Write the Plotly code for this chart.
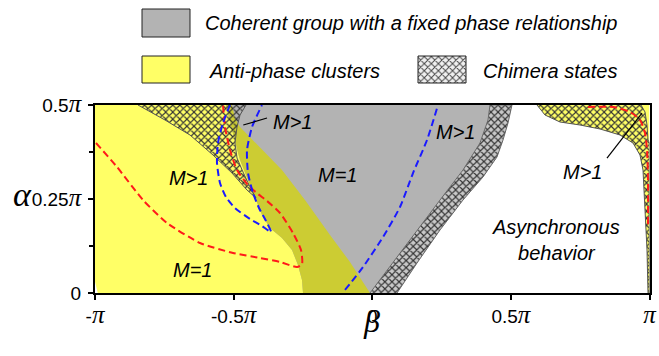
import plotly.graph_objects as go

# ---------------- data (angles in units of pi) ----------------
beta_ticks = [-1, -0.5, 0, 0.5, 1]
beta_tick_labels = ["-", "-0.5", "0", "0.5", ""]
beta_tick_has_pi = [True, True, False, True, True]
alpha_ticks = [0, 0.25, 0.5]
alpha_tick_labels = ["0", "0.25", "0.5"]
alpha_tick_has_pi = [False, True, True]

# right edge of anti-phase (yellow) region, top -> bottom
antiphase_edge_beta = [-0.5059, -0.4951, -0.4770, -0.4049, -0.3256, -0.2426, -0.1524, -0.0803, -0.0081]
antiphase_edge_alpha = [0.5, 0.4654, 0.4415, 0.3883, 0.3271, 0.2473, 0.1543, 0.0824, 0.0]

# left edge of coherent (gray) region, top -> bottom
coherent_edge_beta = [-0.5275, -0.5059, -0.4770, -0.4301, -0.3977, -0.3688, -0.3256, -0.2895, -0.2679, -0.2534, -0.2498]
coherent_edge_alpha = [0.5, 0.4335, 0.3537, 0.2686, 0.2074, 0.1729, 0.1463, 0.1144, 0.0745, 0.0346, 0.0]

# chimera band (middle), left edge bottom -> top, right edge bottom -> top
band_left_beta = [-0.0081, 0.0893, 0.1614, 0.2444, 0.3273, 0.3886, 0.4175, 0.4247]
band_left_alpha = [0.0, 0.0957, 0.1676, 0.2473, 0.3271, 0.3989, 0.4601, 0.5]
band_right_beta = [0.0893, 0.1614, 0.2444, 0.3273, 0.3994, 0.4499, 0.4716, 0.4896, 0.5040]
band_right_alpha = [0.0, 0.0798, 0.1676, 0.2473, 0.3085, 0.3617, 0.4069, 0.4521, 0.5]

# chimera wedge (upper left), lower edge top -> tip, right edge top -> tip
wedge_lower_beta = [-0.8449, -0.7475, -0.6574, -0.5744, -0.5059, -0.4518, -0.4193]
wedge_lower_alpha = [0.5, 0.4601, 0.4202, 0.3670, 0.3191, 0.2739, 0.2527]
wedge_right_beta = [-0.4554, -0.4770, -0.4878, -0.4951, -0.4878, -0.4662, -0.4409, -0.4193]
wedge_right_alpha = [0.5, 0.4734, 0.4415, 0.3989, 0.3590, 0.3218, 0.2819, 0.2527]

# chimera corner (upper right), lower edge top -> bottom
corner_edge_beta = [0.5943, 0.6231, 0.6772, 0.7493, 0.8215, 0.8936, 0.9405, 0.9657, 0.9766, 0.9838, 0.9910, 0.9946]
corner_edge_alpha = [0.5, 0.4734, 0.4548, 0.4468, 0.4362, 0.4202, 0.3989, 0.3670, 0.3271, 0.2287, 0.1144, 0.0]
corner_cut_beta = [0.9693, 0.9838, 0.9910, 0.9946]
corner_cut_alpha = [0.5, 0.4814, 0.4468, 0.4069]

# dashed curves
red_left_beta = [-0.9964, -0.9206, -0.8268, -0.7402, -0.6212, -0.5022, -0.4049, -0.3328, -0.2714, -0.2534,
                 -0.2570, -0.2858, -0.3328, -0.3796, -0.4121, -0.4481, -0.4878, -0.5130, -0.5311, -0.5383]
red_left_alpha = [0.3989, 0.3351, 0.2473, 0.1862, 0.1330, 0.1064, 0.0931, 0.0824, 0.0691, 0.0771,
                  0.1144, 0.1596, 0.2128, 0.2447, 0.2633, 0.2872, 0.3271, 0.3803, 0.4415, 0.5]
red_right_beta = [0.7781, 0.8683, 0.9296, 0.9657, 0.9838, 0.9910, 0.9946, 0.9946]
red_right_alpha = [0.4947, 0.4947, 0.4814, 0.4601, 0.4255, 0.3803, 0.3005, 0.1809]
blue_left_beta = [-0.5131, -0.5383, -0.5564, -0.5600, -0.5491, -0.5275, -0.4950, -0.4409, -0.3977, -0.3652,
                  -0.3832, -0.4085, -0.4301, -0.4481, -0.4517, -0.4337, -0.3977]
blue_left_alpha = [0.5, 0.4521, 0.3989, 0.3457, 0.2926, 0.2553, 0.2261, 0.1968, 0.1782, 0.1622,
                   0.1915, 0.2261, 0.2660, 0.3191, 0.3803, 0.4415, 0.5]
blue_mid_beta = [-0.0983, -0.0333, 0.0388, 0.1001, 0.1470, 0.1975, 0.2372]
blue_mid_alpha = [0.0080, 0.0691, 0.1489, 0.2287, 0.3191, 0.4069, 0.5]

# region labels (beta, alpha, text)
label_beta = [-0.664, -0.650, -0.286, -0.124, 0.302, 0.760, 0.663]
label_alpha = [0.306, 0.061, 0.455, 0.314, 0.428, 0.322, 0.141]
label_text = ["M>1", "M=1", "M>1", "M=1", "M>1", "M>1", "Asynchronous<br>behavior"]

legend_names = ["Coherent group with a fixed phase relationship", "Anti-phase clusters", "Chimera states"]

# ---------------- styles ----------------
YELLOW = "#FFFF66"
GRAY = "#B3B3B3"
OLIVE = "#CCCC33"
HATCH = "#333333"
W, H = 659, 356
PX_L, PX_R, PX_T, PX_B = 95, 649.5, 105, 293

fig = go.Figure()


def poly(xs, ys, fill, line=None, pattern=None, xaxis="x", yaxis="y"):
    kw = dict(x=xs, y=ys, mode="lines", fill="toself", fillcolor=fill,
              line=dict(width=line[1] if line else 0, color=line[0] if line else "rgba(0,0,0,0)"),
              hoverinfo="skip", showlegend=False, xaxis=xaxis, yaxis=yaxis)
    if pattern:
        kw["fillpattern"] = pattern
    fig.add_trace(go.Scatter(**kw))


def hatch(bg):
    return dict(shape="x", fgcolor=HATCH, bgcolor=bg, size=5, solidity=0.4, fillmode="replace")


# anti-phase (yellow)
poly([-0.99, -1, -1] + antiphase_edge_beta, [0, 0.03, 0.5] + antiphase_edge_alpha, YELLOW)
# coherent (gray)
poly(coherent_edge_beta + band_left_beta, coherent_edge_alpha + band_left_alpha, GRAY)
# overlap (olive)
poly(coherent_edge_beta + antiphase_edge_beta[::-1], coherent_edge_alpha + antiphase_edge_alpha[::-1], OLIVE)
# corner yellow base
poly(corner_edge_beta + [1, 1], corner_edge_alpha + [0, 0.5], YELLOW)

# chimera regions
poly(wedge_lower_beta + wedge_right_beta[::-1], wedge_lower_alpha + wedge_right_alpha[::-1],
     "rgba(0,0,0,0)", line=("#555555", 1), pattern=hatch("rgba(0,0,0,0)"))
poly(band_left_beta + band_right_beta[::-1], band_left_alpha + band_right_alpha[::-1],
     "#C4C4C4", line=("#666666", 1), pattern=hatch("#C8C8C8"))
poly(corner_edge_beta + [1, 1] + corner_cut_beta[::-1], corner_edge_alpha + [0, 0.40] + corner_cut_alpha[::-1],
     YELLOW, line=("#555555", 1), pattern=hatch(YELLOW))

# dashed curves
DASH = "7px,4px"
for xs, ys, c in [(red_left_beta, red_left_alpha, "#FF1A1A"), (red_right_beta, red_right_alpha, "#FF1A1A"),
                  (blue_left_beta, blue_left_alpha, "#1A1AFF"), (blue_mid_beta, blue_mid_alpha, "#1A1AFF")]:
    fig.add_trace(go.Scatter(x=xs, y=ys, mode="lines", line=dict(color=c, width=2, dash=DASH, shape="spline", smoothing=0.6),
                             hoverinfo="skip", showlegend=False))

# leader lines for M>1 labels
fig.add_shape(type="line", x0=-0.4652, y0=0.4468, x1=-0.3796, y1=0.4654, xref="x", yref="y",
              line=dict(color="black", width=1.2))
fig.add_shape(type="line", x0=0.9729, y0=0.4787, x1=0.8467, y1=0.3590, xref="x", yref="y",
              line=dict(color="black", width=1.2))

# region labels
for bx, ay, t in zip(label_beta, label_alpha, label_text):
    fig.add_annotation(x=bx, y=ay, xref="x", yref="y", text=t, showarrow=False,
                       font=dict(family="Liberation Sans", size=20, color="black", style="italic"))

# ---------------- legend (drawn in a pixel-coordinate overlay) ----------------
def box(x0, y0, x1, y1, fill, pattern=None):
    poly([x0, x1, x1, x0, x0], [y0, y0, y1, y1, y0], fill, line=("#222222", 1), pattern=pattern,
         xaxis="x2", yaxis="y2")


box(142, 9, 190, 37, GRAY)
box(142, 56, 190, 83, YELLOW)
box(418, 56, 466, 83, "#E8E8E8", pattern=dict(shape="x", fgcolor="#444444", bgcolor="#F0F0F0", size=5,
                                                 solidity=0.35, fillmode="replace"))
for (lx, ly), name in zip([(203, 23), (207, 71), (481, 71)], legend_names):
    fig.add_annotation(x=lx / W, y=1 - ly / H, xref="paper", yref="paper", text=name, showarrow=False,
                       xanchor="left", yanchor="middle",
                       font=dict(family="Liberation Sans", size=20, color="black", style="italic"))

# axis titles
fig.add_annotation(x=12 / W, y=1 - 195 / H, xref="paper", yref="paper", text="α", showarrow=False,
                   borderpad=0, font=dict(family="Liberation Serif", size=34, color="black", style="italic"))
fig.add_annotation(x=371 / W, y=1 - 340 / H, xref="paper", yref="paper", text="β", showarrow=False,
                   borderpad=0, font=dict(family="Liberation Serif", size=32, color="black", style="italic"))

PI = "<span style='font-family:Liberation Serif;font-style:italic;font-size:25px'>π</span>"


def tick_text(labels, has_pi):
    return [l + (PI if p else "") for l, p in zip(labels, has_pi)]


axis_common = dict(showline=True, linewidth=2, linecolor="black", mirror=True, showgrid=False, zeroline=False,
                   ticks="outside", ticklen=5, tickwidth=2, tickcolor="black", automargin=False,
                   tickfont=dict(family="Liberation Sans", size=19, color="black"))

fig.update_layout(
    width=W, height=H,
    margin=dict(l=0, r=0, t=0, b=0, autoexpand=False),
    paper_bgcolor="white", plot_bgcolor="rgba(0,0,0,0)",
    showlegend=False,
    xaxis=dict(domain=[PX_L / W, PX_R / W], range=[-1, 1], tickmode="array", tickvals=beta_ticks,
               ticktext=tick_text(beta_tick_labels, beta_tick_has_pi), anchor="y", **axis_common),
    yaxis=dict(domain=[1 - PX_B / H, 1 - PX_T / H], range=[0, 0.5], tickmode="array", tickvals=alpha_ticks,
               ticktext=tick_text(alpha_tick_labels, alpha_tick_has_pi), anchor="x", ticklabelstandoff=3,
               minor=dict(tickvals=[0.125, 0.375], ticks="outside", ticklen=4, tickwidth=2, tickcolor="black"),
               **axis_common),
    xaxis2=dict(domain=[0, 1], range=[0, W], visible=False, anchor="y2", fixedrange=True, automargin=False),
    yaxis2=dict(domain=[0, 1], range=[H, 0], visible=False, anchor="x2", fixedrange=True, automargin=False),
)

fig.write_html("out.html", config={"displayModeBar": False},
               post_script="document.body.style.margin='0';document.body.style.overflow='hidden';")
